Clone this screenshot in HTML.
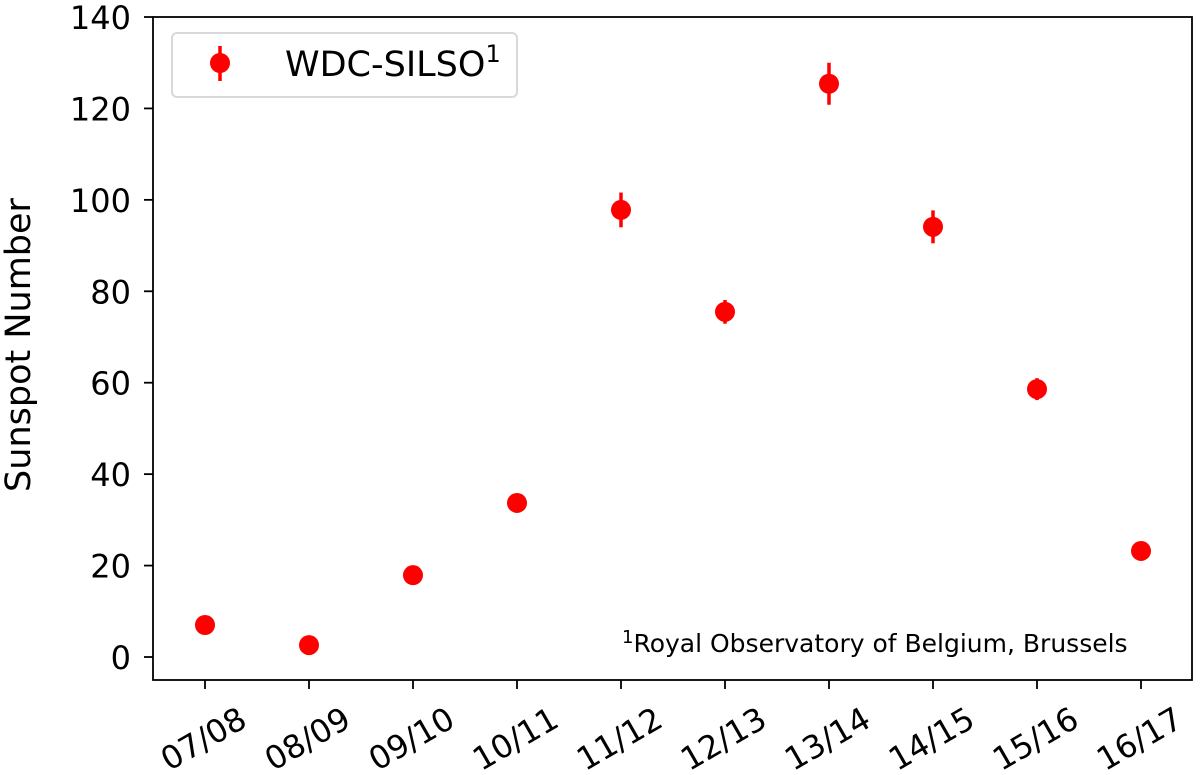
<!DOCTYPE html>
<html><head><meta charset="utf-8">
<style>
html,body{margin:0;padding:0;background:#fff;}
svg{display:block;font-family:"DejaVu Sans","Liberation Sans",sans-serif;}
</style></head>
<body>
<svg id="chart" width="1200" height="775" viewBox="0 0 1200 775">
  <rect x="153" y="17" width="1039" height="663" fill="#fff" stroke="#000" stroke-width="1.8"/>
  <g id="yticks"></g>
  <g id="xticks"></g>
  <g id="points"></g>
  <text x="30" y="345" font-size="35" text-anchor="middle" transform="rotate(-90 30 345)">Sunspot Number</text>
  <g>
    <rect x="172" y="33" width="345" height="64" rx="5" fill="#fff" stroke="#d9d9d9" stroke-width="2"/>
    <line x1="220" y1="46" x2="220" y2="81" stroke="#ff0000" stroke-width="3.5"/>
    <circle cx="220" cy="63" r="10" fill="#ff0000"/>
    <text x="285" y="76" font-size="35">WDC-SILSO<tspan font-size="24" dy="-14">1</tspan></text>
  </g>
  <text x="622" y="652" font-size="25"><tspan font-size="18" dy="-9">1</tspan><tspan dy="9">Royal Observatory of Belgium, Brussels</tspan></text>
</svg>
<script>
const categories = ["07/08","08/09","09/10","10/11","11/12","12/13","13/14","14/15","15/16","16/17"];
const values = [7.0, 2.6, 17.9, 33.7, 97.8, 75.5, 125.4, 94.1, 58.6, 23.2];
const errors = [0.8, 0.5, 1.0, 1.3, 3.8, 2.6, 4.6, 3.6, 2.4, 1.0];
const yTicks = [0, 20, 40, 60, 80, 100, 120, 140];

const NS = "http://www.w3.org/2000/svg";
function yScale(v){ return 657 - v * (640/140); }
function xScale(i){ return 205 + i * 104; }
function mk(tag, attrs, parent){
  const el = document.createElementNS(NS, tag);
  for (const k in attrs) el.setAttribute(k, attrs[k]);
  parent.appendChild(el);
  return el;
}
const yg = document.getElementById('yticks');
yTicks.forEach(t => {
  const y = yScale(t);
  const ln = mk('line', {x1:144, x2:153, y1:y, y2:y, stroke:'#000', 'stroke-width':1.8}, yg);
  
  
  const tx = mk('text', {x:131, y:y+12, 'font-size':32, 'text-anchor':'end'}, yg);
  tx.textContent = t;
  
  
});
const xg = document.getElementById('xticks');
categories.forEach((c, i) => {
  const x = xScale(i);
  const ln = mk('line', {x1:x, x2:x, y1:680, y2:689, stroke:'#000', 'stroke-width':1.8}, xg);
  
  
  const tx = mk('text', {x:x-2, y:750, 'font-size':32, 'text-anchor':'middle', transform:'rotate(-30 '+(x-2)+' 738)'}, xg);
  tx.textContent = c;
  
  
});
const pg = document.getElementById('points');
values.forEach((v, i) => {
  const x = xScale(i);
  const e = mk('line', {x1:x, x2:x, y1:yScale(v+errors[i]), y2:yScale(v-errors[i]), stroke:'#ff0000', 'stroke-width':3.5}, pg);
  
  
  const p = mk('circle', {cx:x, cy:yScale(v), r:10, fill:'#ff0000'}, pg);
  
  
});
</script>
</body></html>
